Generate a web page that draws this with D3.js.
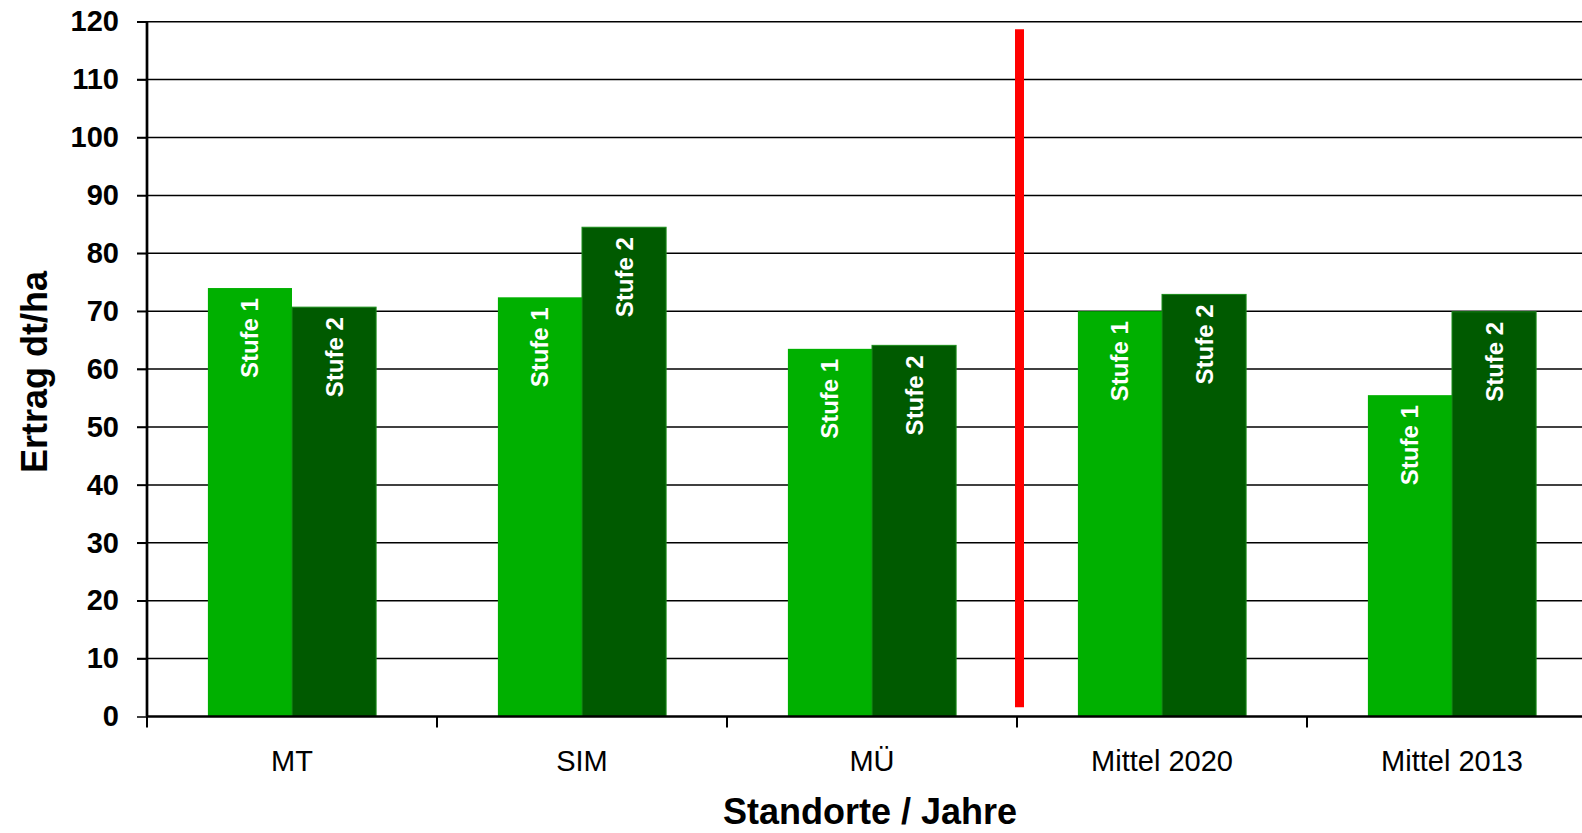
<html>
<head>
<meta charset="utf-8">
<style>
body { margin: 0; background: #fff; }
svg { font-family: "Liberation Sans", Arial, sans-serif; }
.grid line { stroke: #000; stroke-width: 1.5; }
.yaxis text { font-size: 29px; font-weight: bold; }
.xaxis text { font-size: 29px; }
.title { font-size: 36px; font-weight: bold; }
.barlabel { fill: #fff; font-size: 24px; font-weight: bold; }
</style>
<script src="https://d3js.org/d3.v7.min.js"></script>
</head>
<body>
<svg width="1582" height="833"></svg>
<script>
// data
var categories = ["MT", "SIM", "MÜ", "Mittel 2020", "Mittel 2013"];
var series = ["Stufe 1", "Stufe 2"];
var stufe1 = [74.0, 72.4, 63.5, 70.0, 55.5];
var stufe2 = [70.7, 84.5, 64.1, 72.9, 69.9];
var yTicks = [0, 10, 20, 30, 40, 50, 60, 70, 80, 90, 100, 110, 120];
// red divider between the sites and the means
var dividerBefore = "Mittel 2020";
var dividerRange = [1.6, 118.7];

var colors = { "Stufe 1": "#00b000", "Stufe 2": "#005a00" };

var svg = d3.select("svg");
var margin = { left: 147, top: 21.7, right: -15, bottom: 116.5 };
var width = 1582 - margin.left - margin.right,
    height = 833 - margin.top - margin.bottom;

var g = svg.append("g")
    .attr("transform", "translate(" + margin.left + "," + margin.top + ")");

var x0 = d3.scaleBand()
    .domain(categories)
    .range([0, width])
    .paddingInner(0.42)
    .paddingOuter(0.21);

var x1 = d3.scaleBand()
    .domain(series)
    .range([0, x0.bandwidth()]);

var y = d3.scaleLinear()
    .domain([0, 120])
    .range([height, 0]);

// gridlines
g.append("g")
    .attr("class", "grid")
    .selectAll("line")
    .data(yTicks.slice(1))
    .enter().append("line")
    .attr("x1", -10)
    .attr("x2", width)
    .attr("y1", function(d) { return y(d); })
    .attr("y2", function(d) { return y(d); });

// bars
var rows = categories.map(function(c, i) {
    return { cat: c, values: [
        { key: "Stufe 1", value: stufe1[i] },
        { key: "Stufe 2", value: stufe2[i] }
    ] };
});

var groups = g.selectAll(".group")
    .data(rows)
    .enter().append("g")
    .attr("class", "group")
    .attr("transform", function(d) { return "translate(" + x0(d.cat) + ",0)"; });

groups.selectAll("rect")
    .data(function(d) { return d.values; })
    .enter().append("rect")
    .attr("x", function(d) { return x1(d.key); })
    .attr("y", function(d) { return y(d.value); })
    .attr("width", x1.bandwidth())
    .attr("height", function(d) { return height - y(d.value); })
    .attr("fill", function(d) { return colors[d.key]; })
    .attr("stroke", function(d) { return d.key == "Stufe 2" ? "#1a8c1a" : "none"; })
    .attr("stroke-width", 1);

groups.selectAll("text")
    .data(function(d) { return d.values; })
    .enter().append("text")
    .attr("class", "barlabel")
    .attr("transform", function(d) {
        return "translate(" + (x1(d.key) + x1.bandwidth() / 2) + "," + (y(d.value) + 10) + ") rotate(-90)";
    })
    .attr("text-anchor", "end")
    .attr("dominant-baseline", "central")
    .text(function(d) { return d.key; });

// divider
var dx = x0(dividerBefore) - (x0.step() - x0.bandwidth()) / 2 + 2.5;
g.append("line")
    .attr("x1", dx).attr("x2", dx)
    .attr("y1", y(dividerRange[0]))
    .attr("y2", y(dividerRange[1]))
    .attr("stroke", "#ff0000")
    .attr("stroke-width", 9);

// y axis
var yAxis = g.append("g")
    .attr("class", "yaxis")
    .call(d3.axisLeft(y).tickValues(yTicks).tickSize(10).tickPadding(18));
yAxis.select(".domain").attr("stroke-width", 2.7).attr("d", "M0," + height + "V0");
yAxis.selectAll(".tick line").attr("stroke-width", 1.5);

// x axis
var xAxis = g.append("g")
    .attr("class", "xaxis")
    .attr("transform", "translate(0," + height + ")")
    .call(d3.axisBottom(x0).tickSize(0).tickPadding(34));
xAxis.select(".domain").attr("stroke-width", 2.7).attr("d", "M0,0H" + width);

xAxis.selectAll(".boundary")
    .data(d3.range(categories.length))
    .enter().append("line")
    .attr("class", "boundary")
    .attr("x1", function(i) { return x0.range()[0] + i * x0.step(); })
    .attr("x2", function(i) { return x0.range()[0] + i * x0.step(); })
    .attr("y1", 0)
    .attr("y2", 11)
    .attr("stroke", "#000")
    .attr("stroke-width", 2);

// titles
svg.append("text")
    .attr("class", "title")
    .attr("transform", "rotate(-90)")
    .attr("x", -372)
    .attr("y", 47)
    .attr("text-anchor", "middle")
    .text("Ertrag dt/ha");

svg.append("text")
    .attr("class", "title")
    .attr("x", 870)
    .attr("y", 824)
    .attr("text-anchor", "middle")
    .text("Standorte / Jahre");
</script>
</body>
</html>
